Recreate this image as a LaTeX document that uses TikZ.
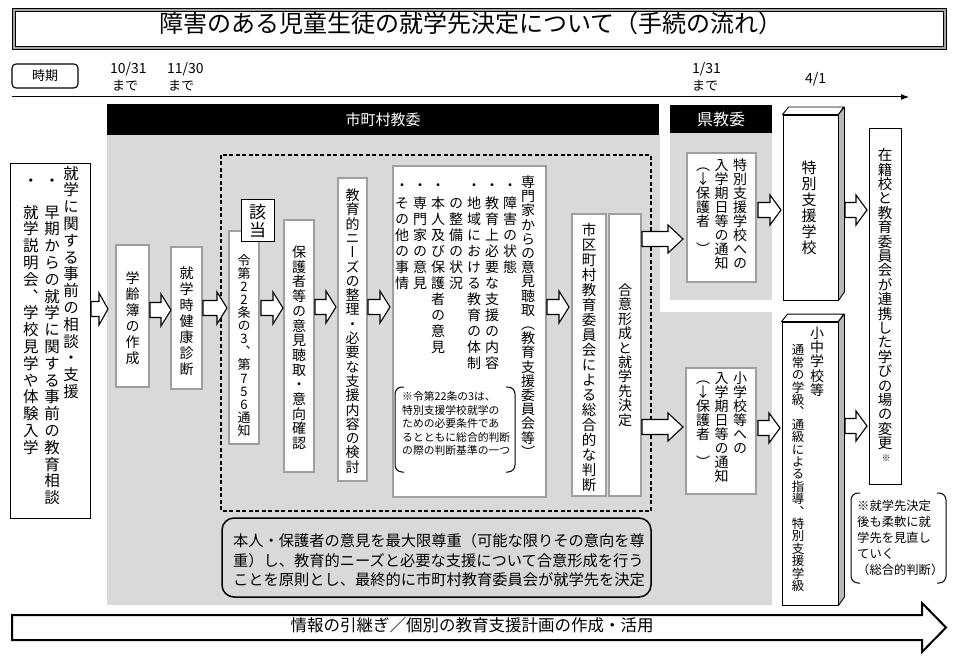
\documentclass[tikz,border=0pt]{standalone}
\usepackage{fontspec}
\setmainfont{Noto Sans CJK JP}
\newfontfamily\vfont[RawFeature=+vert]{Noto Sans CJK JP}
\usetikzlibrary{arrows.meta}
\makeatletter
\newlength\vpitch
\def\vt@end{\vt@end@}
\newcommand\vcell[1]{\hbox to 1em{\hss\vrule height\dimexpr.88em+(\vpitch-1em)/2\relax depth\dimexpr.12em+(\vpitch-1em)/2\relax width0pt\smash{#1}\hss}}
\def\vt@loop#1{\ifx#1\vt@end\else\vcell{#1}\expandafter\vt@loop\fi}
\newcommand\vt[3]{\vbox{\offinterlineskip\fontsize{#1}{#1}\vfont\setlength\vpitch{#2pt}\vt@loop#3\vt@end}}
\makeatother
% vertical column: name, x, first glyph centre y, size, pitch, text
\newcommand\vcol[6]{\node[inner sep=0, anchor=north] (#1) at (#2,{#3-#5/2}) {\vt{#4}{#5}{#6}};}
% box node: name, style, x1, y1, x2, y2
\newcommand\boxnode[6]{\node[#2, minimum width={#5-#3-2}, minimum height={#6-#4-2}] (#1) at ({(#3+#5)/2},{(#4+#6)/2}) {};}
% block arrow: x1, x2, y, body half, head half, head length
\newcommand\barrow[6]{\draw[blk] (#1,{#3-#4}) -- ({#2-#6},{#3-#4}) -- ({#2-#6},{#3-#5}) -- (#2,#3) -- ({#2-#6},{#3+#5}) -- ({#2-#6},{#3+#4}) -- (#1,{#3+#4}) -- cycle;}
% bracket pair: x1, y1, x2, y2
\newcommand\brackets[4]{\draw[brk] ({#1+9},#2) -- (#1,#2) -- (#1,#4) -- ({#1+9},#4);
  \draw[brk] ({#3-9},#2) -- (#3,#2) -- (#3,#4) -- ({#3-9},#4);}
\begin{document}
\begin{tikzpicture}[x=1pt,y=-1pt,
  dbox/.style={draw=black, line width=.8pt, double=gray!75, double distance=1.3pt, fill=white, inner sep=0},
  sbox/.style={draw=black, line width=.9pt, fill=white, inner sep=0},
  blk/.style={draw=black, line width=1.1pt, fill=white, line join=miter},
  jt/.style={inner sep=0, text height=.88em, text depth=.12em},
  brk/.style={draw=black, line width=1pt, rounded corners=7pt},
  hdr/.style={fill=black, text=white, inner sep=0},
  side/.style={draw=black, line width=.9pt, fill=gray!55, line join=round},
  topf/.style={draw=black, line width=.9pt, fill=white, line join=round}]
\useasboundingbox (0,0) rectangle (953,663);

% title
\node[draw, line width=1pt, double=gray!70, double distance=1.6pt, minimum width=931, minimum height=38.5, inner sep=0] (tbox) at (479.5,29) {};
\node[jt, font=\fontsize{24}{28}\selectfont] (title) at (471,29) {障害のある児童生徒の就学先決定について（手続の流れ）};

% time row
\node[draw, line width=1.1pt, rounded corners=4pt, minimum width=66, minimum height=24, inner sep=0, font=\fontsize{13}{15}\selectfont] (jiki) at (45,76) {時期};
\node[jt, anchor=west, font=\fontsize{14}{16}\selectfont] (d1) at (110,70) {10/31};
\node[jt, anchor=west, font=\fontsize{13}{15}\selectfont] (d1m) at (112,87) {まで};
\node[jt, anchor=west, font=\fontsize{14}{16}\selectfont] (d2) at (167,70) {11/30};
\node[jt, anchor=west, font=\fontsize{13}{15}\selectfont] (d2m) at (168,87) {まで};
\node[jt, anchor=west, font=\fontsize{14}{16}\selectfont] (d3) at (692,70) {1/31};
\node[jt, anchor=west, font=\fontsize{13}{15}\selectfont] (d3m) at (692,87) {まで};
\node[jt, anchor=west, font=\fontsize{14}{16}\selectfont] (d4) at (805,80) {4/1};
\coordinate (tl0) at (12,97);
\coordinate (tl1) at (909,97);
\draw[line width=1pt, -{Latex[length=8pt,width=6pt]}] (tl0) -- (tl1);

% gray regions and headers
\fill[gray!30] (107,135) rectangle (660,605);
\fill[gray!30] (660,312) rectangle (772,605);
\fill[gray!30] (670,133) rectangle (772,300);
\node[hdr, minimum width=552, minimum height=31, font=\fontsize{15}{17}\selectfont] (h1) at (383,120) {市町村教委};
\node[hdr, minimum width=102, minimum height=28, font=\fontsize{16}{18}\selectfont] (h2) at (721,119) {県教委};

% dashed frame
\draw[line width=1.2pt, dash pattern=on 4pt off 2.5pt] (221,155) rectangle (651,511);

% left box
\boxnode{lb}{sbox}{9}{162}{91}{519}
\vcol{lb1}{71}{173}{15.5}{16.8}{就学に関する事前の相談・支援}
\node[jt, font=\fontsize{15.5}{17}\selectfont] (lbd2) at (52,183) {・};
\vcol{lb2}{52}{212}{15.5}{16.8}{早期からの就学に関する事前の教育相談}
\node[jt, font=\fontsize{15.5}{17}\selectfont] (lbd3) at (31,183) {・};
\vcol{lb3}{31}{212}{15.5}{16.8}{就学説明会、学校見学や体験入学}

% process boxes
\boxnode{gr}{dbox}{115}{244}{150}{388}
\vcol{grt}{132.5}{278}{14}{16}{学齢簿の作成}
\boxnode{ks}{dbox}{170}{246}{203}{390}
\vcol{kst}{186.5}{273}{14}{16}{就学時健康診断}
\boxnode{r22}{dbox}{228}{230}{260}{445}
\vcol{r22t}{244}{260}{13}{13.1}{令第22条の3、第756通知}
\boxnode{gt}{sbox}{240}{198}{275}{242}
\vcol{gtt}{257.5}{212}{17}{18}{該当}
\boxnode{hg}{dbox}{283}{219}{315}{473}
\vcol{hgt}{299}{252}{14}{14.7}{保護者等の意見聴取・意向確認}
\boxnode{kn}{dbox}{337}{177}{368}{482}
\vcol{knt}{352.5}{195}{14}{14.3}{教育的ニーズの整理・必要な支援内容の検討}

% big box
\boxnode{bb}{dbox}{392}{165}{547}{498}
\vcol{bb1}{528}{182}{14}{14.2}{専門家からの意見聴取（教育支援委員会等）}
\foreach \xx/\nn in {510/a,492/b,474/c,438/e,420/f,402/g}
  \node[jt, font=\fontsize{14}{16}\selectfont] (bbd\nn) at (\xx,187) {・};
\vcol{bb2}{510}{203}{14}{16}{障害の状態}
\vcol{bb3}{492}{203}{14}{16}{教育上必要な支援の内容}
\vcol{bb4}{474}{203}{14}{16}{地域における教育の体制}
\vcol{bb5}{456}{203}{14}{16}{の整備の状況}
\vcol{bb6}{438}{203}{14}{16}{本人及び保護者の意見}
\vcol{bb7}{420}{203}{14}{16}{専門家の意見}
\vcol{bb8}{402}{203}{14}{16}{その他の事情}
\brackets{395}{387}{515}{472}
\foreach \tt [count=\i] in {※令第22条の3は、,特別支援学校就学の,ための必要条件であ,るとともに総合的判断,の際の判断基準の一つ}
  \node[jt, anchor=west, font=\fontsize{10.8}{13}\selectfont] (nt\i) at (402,{397+13.4*(\i-1)}) {\tt};

% decision boxes
\boxnode{sk}{dbox}{571}{213}{607}{497}
\vcol{skt}{589}{230}{14.5}{15}{市区町村教育委員会による総合的な判断}
\boxnode{gk}{dbox}{608}{213}{642}{497}
\vcol{gkt}{625}{290}{14}{14.4}{合意形成と就学先決定}

% notice boxes
\boxnode{tn}{dbox}{686}{152}{757}{283}
\vcol{tn1}{740}{165}{14}{14}{特別支援学校への}
\vcol{tn2}{721.5}{165}{14}{14}{入学期日等の通知}
\vcol{tn3}{703}{165}{14}{14}{（↓保護者　）}
\boxnode{sn}{dbox}{685}{367}{757}{495}
\vcol{sn1}{740}{378}{14}{14}{小学校等への}
\vcol{sn2}{721.5}{378}{14}{14}{入学期日等の通知}
\vcol{sn3}{703}{378}{14}{14}{（↓保護者　）}

% 3D school boxes
\node[draw, line width=.9pt, fill=white, minimum width=55, minimum height=185, inner sep=0] (tokushi) at (810.5,207.5) {};
\draw[topf] (tokushi.north west) -- ++(6,-7.5) -- ++(55,0) -- (tokushi.north east) -- cycle;
\draw[side] (tokushi.north east) -- ++(6,-7.5) -- ++(0,185) -- (tokushi.south east) -- cycle;
\vcol{tkt}{809}{168}{15}{16}{特別支援学校}
\node[draw, line width=.9pt, fill=white, minimum width=56, minimum height=283, inner sep=0] (shochu) at (810,463.5) {};
\draw[topf] (shochu.north west) -- ++(6,-7.5) -- ++(56,0) -- (shochu.north east) -- cycle;
\draw[side] (shochu.north east) -- ++(6,-7.5) -- ++(0,283) -- (shochu.south east) -- cycle;
\vcol{sct1}{817}{333}{14}{14.2}{小中学校等}
\vcol{sct2}{798}{350}{12.5}{12.4}{通常の学級、通級による指導、特別支援学級}

% final box
\boxnode{zs}{sbox}{868}{127}{902}{485}
\vcol{zst}{885}{155}{14.5}{14.4}{在籍校と教育委員会が連携した学びの場の変更}
\node[jt, font=\fontsize{9}{10}\selectfont] (zsm) at (886,458) {※};

% right note
\brackets{851}{493}{946}{583}
\foreach \tt [count=\i] in {※就学先決定,後も柔軟に就,学先を見直し,ていく,（総合的判断）}
  \node[jt, anchor=west, font=\fontsize{12.3}{14}\selectfont] (rn\i) at (857,{507+16*(\i-1)}) {\tt};

% bottom rounded note
\node[draw, line width=1.5pt, rounded corners=12pt, minimum width=429, minimum height=79, inner sep=0] (note) at (436.5,557.5) {};
\foreach \tt [count=\i] in {本人・保護者の意見を最大限尊重（可能な限りその意向を尊,重）し、教育的ニーズと必要な支援について合意形成を行う,ことを原則とし、最終的に市町村教育委員会が就学先を決定}
  \node[jt, anchor=west, font=\fontsize{15.25}{18}\selectfont] (bn\i) at (233,{543+19.5*(\i-1)}) {\tt};

% block arrows
\barrow{91}{108}{309}{7.5}{16}{9}
\barrow{150}{171}{310}{7.5}{16}{10}
\barrow{203}{227}{308}{7.5}{16}{10}
\barrow{261}{283}{308}{7.5}{16}{10}
\barrow{315}{336}{307}{7.5}{16}{10}
\barrow{368}{390}{307}{7.5}{16}{10}
\barrow{547}{569}{307}{7.5}{16}{10}
\barrow{642}{683}{239}{7.5}{14}{15}
\barrow{642}{683}{427}{7.5}{14}{15}
\barrow{758}{781}{210}{7.5}{15}{11}
\barrow{845}{867}{210}{7.5}{15}{11}
\barrow{758}{780}{428}{7.5}{15}{11}
\barrow{845}{867}{426}{7.5}{15}{11}

% bottom long arrow
\draw[line width=2pt, fill=white, line join=miter] (12,615) -- (922,615) -- (922,603) -- (946,627.5) -- (922,652) -- (922,640) -- (12,640) -- cycle;
\node[jt, font=\fontsize{16.5}{18}\selectfont] (bt) at (472,627.5) {情報の引継ぎ／個別の教育支援計画の作成・活用};
\end{tikzpicture}
\end{document}
